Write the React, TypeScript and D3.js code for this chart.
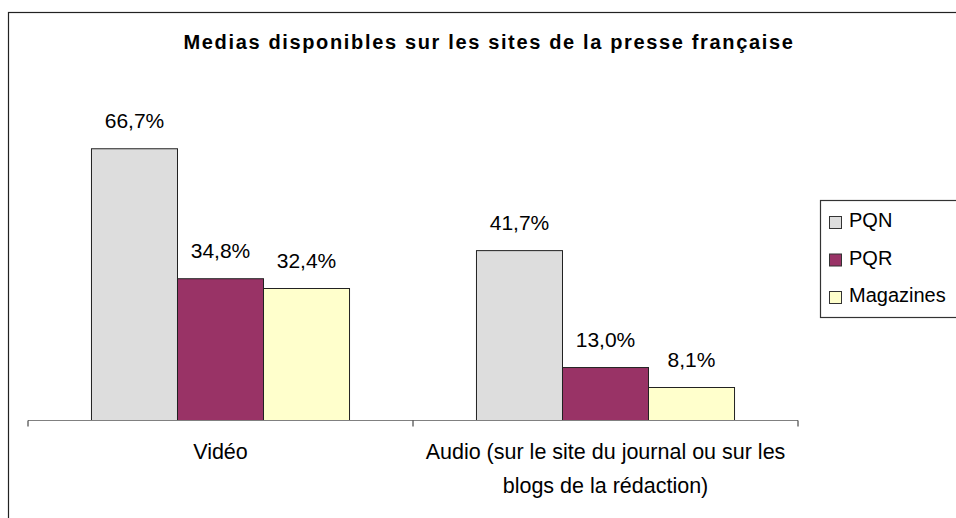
import React from "react";
import * as d3 from "d3";

const categories = ["Vidéo", "Audio (sur le site du journal ou sur les blogs de la rédaction)"];
const categoryLines = [["Vidéo"], ["Audio (sur le site du journal ou sur les", "blogs de la rédaction)"]];
const series = ["PQN", "PQR", "Magazines"];
const colors = ["#DDDDDD", "#993366", "#FFFFCC"];
const valuesPQN = [66.7, 41.7];
const valuesPQR = [34.8, 13.0];
const valuesMag = [32.4, 8.1];
const seriesValues = [valuesPQN, valuesPQR, valuesMag];
const title = "Medias disponibles sur les sites de la presse française";

const W = 956;
const H = 518;
const FONT = "'Liberation Sans', Arial, sans-serif";

export default function App() {
  const axisY = 420.5;
  const x = d3.scaleBand<string>().domain(categories).range([28, 798]).paddingInner(0).paddingOuter(0);
  const xi = d3.scaleBand<string>().domain(series).range([0, x.bandwidth()]).paddingInner(0).paddingOuter(0.738);
  const y = d3.scaleLinear().domain([0, 70]).range([axisY, axisY - 70 * 4.074]);
  const fmt = (v: number) => v.toFixed(1).replace(".", ",") + "%";
  const tickXs = [...categories.map((c) => x(c)!), 798];

  return (
    <svg width={W} height={H} style={{ position: "absolute", left: 0, top: 0, background: "#fff" }} fontFamily={FONT}>
      <rect x={0} y={0} width={W} height={H} fill="#fff" />
      <rect x={8.5} y={12.5} width={W + 20} height={H + 20} fill="none" stroke="#222" strokeWidth={1.2} />
      <text x={489} y={48.5} textAnchor="middle" fontSize={20} fontWeight="bold" letterSpacing={1.65} fill="#000">
        {title}
      </text>
      {series.map((s, si) =>
        categories.map((c, ci) => {
          const v = seriesValues[si][ci];
          const bx = x(c)! + xi(s)!;
          const by = y(v);
          return (
            <g key={s + ci}>
              <rect x={bx} y={by} width={xi.bandwidth()} height={axisY - by} fill={colors[si]} stroke="#222" strokeWidth={1} />
              <text x={bx + xi.bandwidth() / 2} y={by - 21} textAnchor="middle" fontSize={21} fill="#000">
                {fmt(v)}
              </text>
            </g>
          );
        })
      )}
      <line x1={28} x2={798} y1={axisY} y2={axisY} stroke="#808080" strokeWidth={1.2} />
      {tickXs.map((tx, i) => (
        <line key={i} x1={tx} x2={tx} y1={axisY} y2={axisY + 6} stroke="#222" strokeWidth={1} />
      ))}
      {categories.map((c, ci) =>
        categoryLines[ci].map((ln, li) => (
          <text key={c + li} x={x(c)! + x.bandwidth() / 2} y={458.5 + li * 34} textAnchor="middle" fontSize={21.5} fill="#000">
            {ln}
          </text>
        ))
      )}
      <rect x={820.5} y={200.5} width={200} height={117} fill="#fff" stroke="#333" strokeWidth={1.2} />
      {series.map((s, si) => (
        <g key={s} transform={`translate(0, ${216 + si * 37.5})`}>
          <rect x={829.5} y={0.5} width={12} height={12} fill={colors[si]} stroke="#333" strokeWidth={1} />
          <text x={849} y={11} fontSize={20} fill="#000">
            {s}
          </text>
        </g>
      ))}
    </svg>
  );
}
